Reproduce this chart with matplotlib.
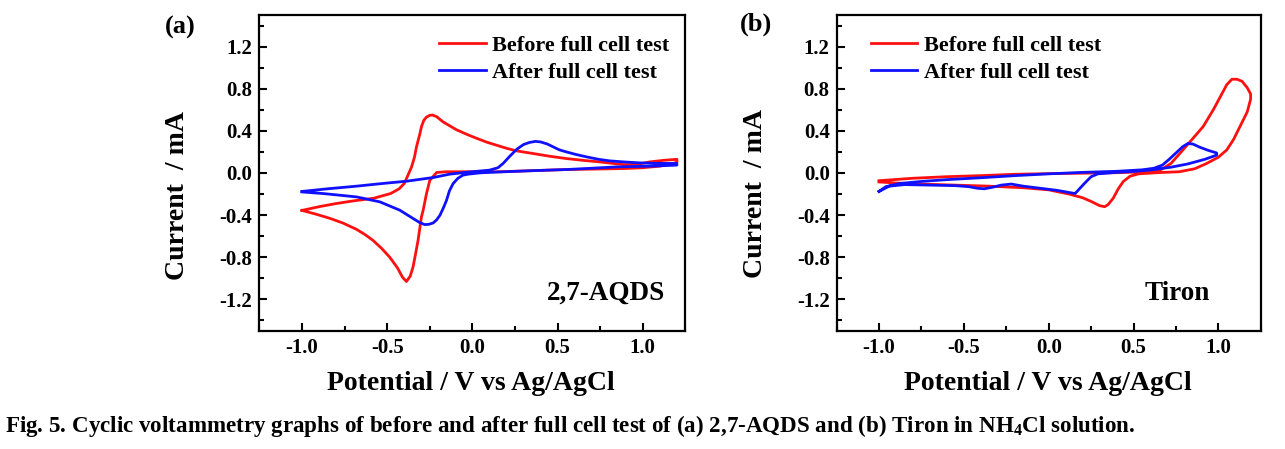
import numpy as np
import matplotlib
matplotlib.use("Agg")
import matplotlib.pyplot as plt
from matplotlib.ticker import MultipleLocator

plt.rcParams['font.family'] = ['Liberation Serif', 'DejaVu Serif']
plt.rcParams['font.weight'] = 'bold'
plt.rcParams['axes.unicode_minus'] = False
plt.rcParams['mathtext.fontset'] = 'custom'
plt.rcParams['mathtext.rm'] = 'Liberation Serif:bold'
plt.rcParams['mathtext.it'] = 'Liberation Serif:bold'

# (a) 2,7-AQDS, before full cell test (forward then reverse sweep)
aqds_before_v = [-1.00, -0.90, -0.80, -0.70, -0.58, -0.48, -0.43, -0.40, -0.378, -0.357, -0.34, -0.328,
                 -0.31, -0.299, -0.285, -0.27, -0.25, -0.234, -0.21, -0.172, -0.13, -0.093, -0.03, 0.024,
                 0.08, 0.141, 0.20, 0.259, 0.356, 0.45, 0.552, 0.65, 0.748, 0.885, 0.96, 1.04, 1.12, 1.20,
                 1.20, 1.10, 1.00, 0.904, 0.75, 0.552, 0.35, 0.161, 0.0, -0.152, -0.21, -0.25, -0.27,
                 -0.289, -0.299, -0.319, -0.335, -0.348, -0.365, -0.387, -0.41, -0.44, -0.485, -0.53,
                 -0.583, -0.63, -0.68, -0.76, -0.837, -0.92, -1.00]
aqds_before_i = [-0.355, -0.32, -0.29, -0.265, -0.24, -0.195, -0.15, -0.10, -0.02, 0.058, 0.15, 0.25,
                 0.36, 0.44, 0.50, 0.53, 0.548, 0.55, 0.535, 0.485, 0.445, 0.41, 0.365, 0.33,
                 0.295, 0.264, 0.235, 0.21, 0.185, 0.16, 0.137, 0.12, 0.105, 0.08, 0.08, 0.105, 0.12, 0.13,
                 0.10, 0.065, 0.05, 0.043, 0.038, 0.033, 0.022, 0.012, 0.012, 0.012, 0.005, -0.07, -0.2,
                 -0.353, -0.417, -0.64, -0.78, -0.89, -0.98, -1.03, -0.99, -0.90, -0.80, -0.72,
                 -0.64, -0.585, -0.535, -0.475, -0.43, -0.39, -0.355]

# (a) 2,7-AQDS, after full cell test
aqds_after_v = [-1.00, -0.85, -0.68, -0.53, -0.387, -0.23, -0.133, -0.015, 0.10, 0.15, 0.18, 0.22, 0.26,
                0.30, 0.335, 0.37, 0.40, 0.44, 0.474, 0.51, 0.552, 0.61, 0.67, 0.74, 0.806, 0.90, 0.982,
                1.08, 1.20,
                1.20, 1.05, 0.846, 0.70, 0.552, 0.35, 0.161, 0.05, -0.02, -0.055, -0.085, -0.113, -0.135,
                -0.152, -0.17, -0.19, -0.21, -0.23, -0.255, -0.28, -0.31, -0.348, -0.426, -0.543, -0.68,
                -0.876, -1.00]
aqds_after_i = [-0.175, -0.15, -0.125, -0.10, -0.078, -0.043, -0.011, 0.01, 0.027, 0.05, 0.09, 0.16, 0.225,
                0.27, 0.29, 0.30, 0.295, 0.275, 0.248, 0.22, 0.20, 0.175, 0.153, 0.13, 0.115, 0.104, 0.096,
                0.092, 0.09,
                0.075, 0.065, 0.058, 0.045, 0.033, 0.022, 0.01, 0.002, -0.01, -0.02, -0.05, -0.10, -0.17,
                -0.26, -0.33, -0.40, -0.445, -0.474, -0.487, -0.49, -0.47, -0.432, -0.353, -0.274, -0.227,
                -0.195, -0.18]

# (b) Tiron, before full cell test
tiron_before_v = [-1.00, -0.80, -0.60, -0.40, -0.20, 0.00, 0.20, 0.40, 0.55, 0.66, 0.72, 0.77, 0.84,
                  0.91, 0.97, 1.01, 1.05, 1.08, 1.11, 1.14, 1.17, 1.19,
                  1.19, 1.17, 1.13, 1.09, 1.05, 1.00, 0.93, 0.86, 0.77, 0.65, 0.53, 0.48, 0.44,
                  0.41, 0.38, 0.35, 0.33, 0.30, 0.25, 0.20, 0.12, 0.00, -0.15, -0.35, -0.55, -0.75,
                  -0.90, -1.00]
tiron_before_i = [-0.073, -0.05, -0.035, -0.025, -0.012, -0.006, -0.002, 0.003, 0.01, 0.03, 0.09, 0.18, 0.31,
                  0.44, 0.60, 0.72, 0.84, 0.89, 0.89, 0.87, 0.81, 0.75,
                  0.70, 0.58, 0.45, 0.32, 0.22, 0.15, 0.09, 0.04, 0.012, 0.004, -0.008, -0.03, -0.08,
                  -0.15, -0.24, -0.30, -0.32, -0.31, -0.27, -0.235, -0.20, -0.16, -0.14, -0.125, -0.115, -0.105,
                  -0.095, -0.085]

# (b) Tiron, after full cell test
tiron_after_v = [-1.00, -0.96, -0.88, -0.75, -0.60, -0.40, -0.20, 0.00, 0.20, 0.40, 0.55, 0.62, 0.67,
                 0.71, 0.75, 0.79, 0.82, 0.85, 0.89, 0.94, 0.99,
                 0.99, 0.92, 0.82, 0.72, 0.61, 0.50, 0.40, 0.29, 0.25, 0.21, 0.17, 0.155, 0.12, 0.05,
                 -0.05, -0.15, -0.22, -0.28, -0.33, -0.38, -0.42, -0.47, -0.55, -0.70, -0.85, -0.94, -1.00]
tiron_after_i = [-0.175, -0.13, -0.10, -0.08, -0.063, -0.045, -0.025, -0.008, 0.006, 0.016, 0.03, 0.045, 0.075,
                 0.13, 0.19, 0.25, 0.28, 0.275, 0.245, 0.215, 0.19,
                 0.17, 0.13, 0.086, 0.055, 0.03, 0.015, 0.006, -0.008, -0.035, -0.10, -0.17, -0.195, -0.185, -0.165,
                 -0.145, -0.125, -0.105, -0.115, -0.135, -0.15, -0.145, -0.13, -0.12, -0.115, -0.11, -0.125, -0.175]

legend_labels = ["Before full cell test", "After full cell test"]
panel_names = ["2,7-AQDS", "Tiron"]
x_label = "Potential / V vs Ag/AgCl"
y_label = "Current  / mA"
caption = ("Fig. 5. Cyclic voltammetry graphs of before and after full cell test of "
           "(a) 2,7-AQDS and (b) Tiron in NH$_{4}$Cl solution.")

W, H = 1285, 449
fig = plt.figure(figsize=(W / 100, H / 100), dpi=100)


def px_axes(x0, x1, y0, y1):
    # pixel box (left, right, top, bottom) -> figure axes
    return fig.add_axes([x0 / W, 1 - y1 / H, (x1 - x0) / W, (y1 - y0) / H])


def px_text(x, y, s, **kw):
    # text placed by pixel position in the figure
    return fig.text(x / W, 1 - y / H, s, fontweight='bold', **kw)


def style(ax):
    ax.set_xlim(-1.25, 1.25)
    ax.set_ylim(-1.5, 1.5)
    ax.xaxis.set_minor_locator(MultipleLocator(0.25))
    ax.yaxis.set_minor_locator(MultipleLocator(0.2))
    ax.set_xticks([-1.0, -0.5, 0.0, 0.5, 1.0])
    ax.set_yticks([-1.2, -0.8, -0.4, 0.0, 0.4, 0.8, 1.2])
    ax.tick_params(which='both', direction='in', top=False, right=False, width=1.5)
    ax.tick_params(which='major', length=6, labelsize=15, pad=5)
    ax.tick_params(which='minor', length=3.5)
    for s in ax.spines.values():
        s.set_linewidth(1.6)
    for lab in ax.get_xticklabels() + ax.get_yticklabels():
        lab.set_fontweight('bold')


ax1 = px_axes(259.4, 685.4, 15, 331)
ax2 = px_axes(836.6, 1260.8, 15, 331)

ax1.plot(aqds_before_v, aqds_before_i, color='#ff1010', lw=2, label=legend_labels[0])
ax1.plot(aqds_after_v, aqds_after_i, color='#1010ff', lw=2, label=legend_labels[1])
ax2.plot(tiron_before_v, tiron_before_i, color='#ff1010', lw=2, label=legend_labels[0])
ax2.plot(tiron_after_v, tiron_after_i, color='#1010ff', lw=2, label=legend_labels[1])

for ax in (ax1, ax2):
    style(ax)

leg_kw = dict(frameon=False, fontsize=16, handlelength=2.1, handletextpad=0.3,
              labelspacing=0.3, borderpad=0, borderaxespad=0, loc='upper left')
ax1.legend(bbox_to_anchor=(0.4216, 0.936), **leg_kw)
ax2.legend(bbox_to_anchor=(0.0806, 0.936), **leg_kw)

px_text(665.3, 293, panel_names[0], ha='right', va='center', fontsize=19.5)
px_text(1177, 293, panel_names[1], ha='center', va='center', fontsize=19.5)

px_text(180, 27, "(a)", ha='center', va='center', fontsize=19)
px_text(756, 24, "(b)", ha='center', va='center', fontsize=19)

px_text(177.4, 195, y_label, rotation=90, ha='center', va='center', fontsize=20)
px_text(755.5, 193, y_label, rotation=90, ha='center', va='center', fontsize=20)
px_text(471, 383, x_label, ha='center', va='center', fontsize=20)
px_text(1048, 383, x_label, ha='center', va='center', fontsize=20)

px_text(5, 426, caption, ha='left', va='center', fontsize=16.6)

fig.savefig("out.png", dpi=100)
